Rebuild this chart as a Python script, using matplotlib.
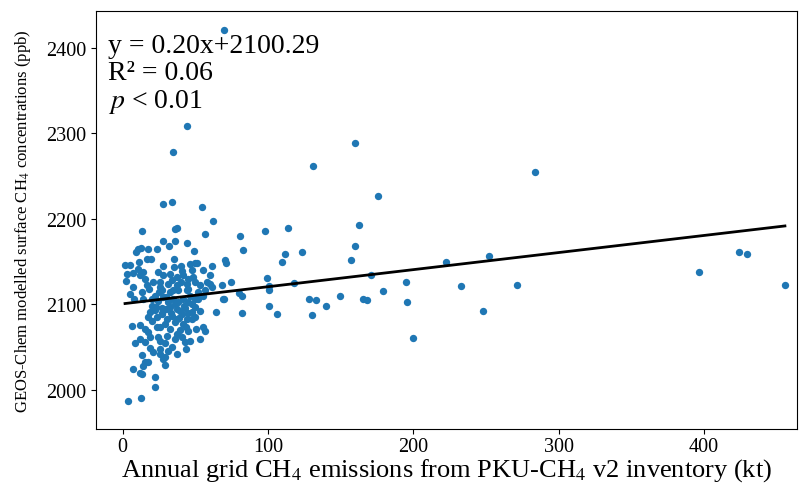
import matplotlib.pyplot as plt

plt.rcParams['font.family'] = ['Liberation Serif', 'DejaVu Serif']
plt.rcParams['mathtext.fontset'] = 'stix'

# annual grid CH4 emissions (kt) and modelled CH4 (ppb)
emis_sparse = [70, 44, 35, 160, 131, 176, 284, 163, 81, 98, 114, 83, 160, 70.5, 71,
               111.6, 110, 123.7, 157.3, 99.7, 171.2, 68.3, 74.5, 101, 100.8, 118.2,
               80.4, 82, 69.9, 194.9, 179.5, 128.6, 133, 149.5, 165.3, 168.1, 140.3,
               101, 195.6, 82.2, 106.1, 130.6, 222.4, 252.4, 232.8, 248.3, 271.5,
               396.3, 423.8, 429.8, 455.7, 199.9]
conc_sparse = [2421, 2308, 2278, 2288, 2262, 2226, 2254, 2192, 2180, 2185, 2189, 2163,
               2168, 2151, 2147.5, 2158.5, 2149.5, 2161, 2151, 2131, 2134.6, 2122,
               2126.4, 2121, 2116.4, 2125, 2112.4, 2110, 2106.2, 2126, 2115.6, 2106.5,
               2104.7, 2109.4, 2106.2, 2105, 2098, 2097.7, 2102.7, 2089.5, 2088.7,
               2086.7, 2148.7, 2155.7, 2120.6, 2092.2, 2122.6, 2137.4, 2160.8, 2158.5,
               2122.2, 2060.5]

emis_upper = [54.7, 62.1, 56.6, 27.7, 33.9, 13.4, 36.1, 37.7, 27.7, 35.9, 32, 44.2,
              23.7, 12.5, 10.7, 9.1, 17.8, 49.4, 17.1, 19.6, 35.4, 5, 11.6, 49.9, 61.4,
              28.1, 35.4, 40.5, 46.5, 51.5, 47.8, 40.7, 55.6, 7.4, 12, 15.5, 14.3, 10.7,
              60.2, 58, 60.2, 7, 13.2, 16.7, 49.9, 52.2,
              24.6, 28.1, 32.7, 37.3, 41.8, 45.3, 48.7, 21.2, 25.8, 31.5, 37.3, 44.2,
              49.9, 53.3, 25.3, 32.7, 38.4, 44.2, 46.5, 52.2, 27, 35, 45.3, 56.8, 61.4]
conc_upper = [2214, 2197, 2182, 2217, 2220, 2185, 2188, 2189, 2174, 2174, 2168, 2172,
              2164, 2166, 2164, 2161.5, 2165, 2162, 2153, 2153, 2152.6, 2146, 2149, 2148,
              2144, 2145, 2143, 2145, 2147, 2147.5, 2140, 2139, 2140, 2136, 2133.5,
              2129.6, 2138, 2141, 2133.5, 2125.7, 2123.7, 2120, 2114, 2121.8, 2106.2,
              2105.4,
              2137.4, 2133.5, 2135.4, 2131.6, 2133.5, 2129.6, 2131.6, 2125.7, 2125.7,
              2123.7, 2121.8, 2123.7, 2125.7, 2121.8, 2114.7, 2114.7, 2116, 2116, 2110,
              2114, 2116, 2116, 2118, 2116, 2120]

emis_lower = [6.7, 12, 18.9, 22.4, 27, 32.7, 37.3, 43, 47.6, 47.6, 55.6, 56.8, 53.3,
              64.1, 69.4, 15.5, 17.8, 23.5, 29.3, 36.1, 41.8, 24.6, 30.4, 37.3, 43, 37.3,
              29.3, 21.2, 25.8, 13.2, 15.5, 7.4, 13.2, 22.4, 22.4, 4, 12.7, 29.3, 28.1,
              17.8, 14.3, 12]
conc_lower = [2074, 2076, 2091, 2092.5, 2095, 2096.5, 2094.5, 2095, 2091, 2083, 2073,
              2069, 2059, 2091, 2106, 2056, 2067, 2073, 2077, 2079, 2077, 2061, 2063,
              2065, 2056, 2042, 2038, 2044, 2048, 2040, 2032, 2024, 2018.5, 2014.6, 2003,
              1987, 1990, 2029, 2036, 2032, 2028, 2019]

emis_core = [20.3, 24.4, 27.9, 31.3, 34.8, 38.2, 41.6, 45.1, 23.7, 27.2, 30.6, 34.1,
             37.5, 40.9, 44.4, 20.3, 25.8, 32.7, 39.6, 43.7, 36.1, 40.9, 29.2, 34.1,
             25.8, 18.9, 15.5, 17.5, 47.8, 49.9, 45.1, 53.3, 29.9, 39.6, 23.1, 14.1,
             7.9, 5.2, 2.4, 1.7, 3.1, 25.8, 31.3, 18.9, 12.0, 8.6, 43.7, 46.5, 50.6,
             22, 30, 36, 42, 27, 33, 39, 45, 20, 50, 26, 34, 40, 18, 55]
conc_core = [2106, 2104, 2108, 2103, 2106, 2102, 2106, 2103, 2085, 2088, 2083, 2086,
             2082, 2088, 2083, 2080, 2073, 2071, 2070, 2073, 2059, 2062, 2054, 2050,
             2057, 2062, 2071, 2085, 2100, 2085, 2068, 2092, 2094, 2092, 2097, 2106,
             2106, 2112, 2127, 2146, 2135, 2042, 2045, 2049, 2059, 2054, 2048, 2057,
             2071,
             2110, 2108, 2100, 2098, 2090, 2089, 2084, 2090, 2098, 2096, 2120, 2128,
             2126, 2118, 2110]

emissions = emis_sparse + emis_upper + emis_lower + emis_core
concentrations = conc_sparse + conc_upper + conc_lower + conc_core

slope = 0.20
intercept = 2100.29

fig = plt.figure(figsize=(8.12, 4.89), dpi=100)
ax = fig.add_axes([0.118, 0.121, 0.8635, 0.8545])

ax.scatter(emissions, concentrations, s=28, color='#1f77b4', linewidths=0, zorder=2)

x_fit = [min(emissions), max(emissions)]
y_fit = [slope * v + intercept for v in x_fit]
ax.plot(x_fit, y_fit, color='black', linewidth=2, zorder=3)

ax.set_xlim(-18.4, 464)
ax.set_ylim(1954, 2443)
ax.set_xticks([0, 100, 200, 300, 400])
ax.set_yticks([2000, 2100, 2200, 2300, 2400])
ax.tick_params(labelsize=14.5)
ax.tick_params(axis='x', pad=2.5)

ax.set_xlabel(r'Annual grid CH$_4$ emissions from PKU-CH$_4$ v2 inventory (kt)', fontsize=19,
              labelpad=0)
ax.set_ylabel(r'GEOS-Chem modelled surface CH$_4$ concentrations (ppb)', fontsize=12,
              labelpad=9)

ax.text(0.017, 0.948, 'y = 0.20x+2100.29\nR² = 0.06\n$p$ < 0.01', transform=ax.transAxes,
        fontsize=20, va='top', ha='left', linespacing=1.1)

fig.savefig('out.png', dpi=100)
